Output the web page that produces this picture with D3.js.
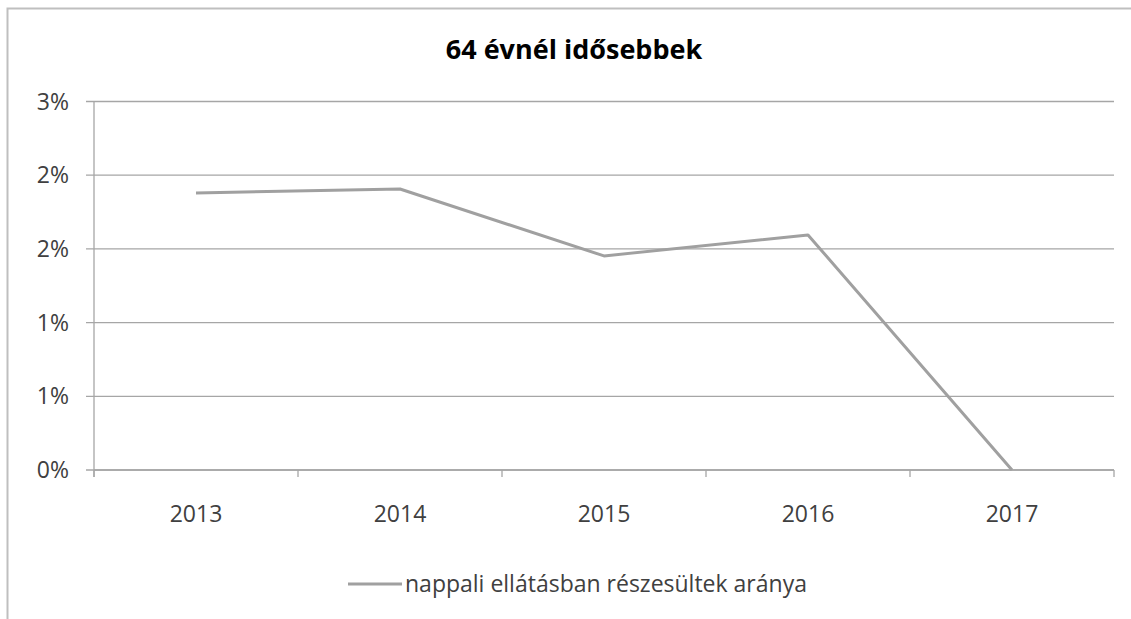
<!DOCTYPE html>
<html>
<head>
<meta charset="utf-8">
<script src="https://cdn.jsdelivr.net/npm/d3@7"></script>
<style>
  body { margin: 0; background: #fff; }
  text { font-family: "Open Sans", sans-serif; fill: #404040; }
  .grid line { stroke: #a6a6a6; stroke-width: 1.3; }
  .axis path, .axis line { stroke: #a6a6a6; stroke-width: 1.3; }
</style>
</head>
<body>
<div id="chart"></div>
<script>
// chart data
var years = ["2013", "2014", "2015", "2016", "2017"];
var shares = [0.02255, 0.02288, 0.01743, 0.01914, 0.0];
var yTicks = [0, 0.006, 0.012, 0.018, 0.024, 0.03];
var seriesName = "nappali ellátásban részesültek aránya";
var title = "64 évnél idősebbek";

var W = 1131, H = 619;
var margin = {top: 101.5, right: 17, bottom: 149, left: 94},
    width = W - margin.left - margin.right,
    height = H - margin.top - margin.bottom;

var svg = d3.select("#chart")
  .append("svg")
    .attr("width", W)
    .attr("height", H);

// outer chart frame
svg.append("path")
    .attr("d", "M7.5,619 L7.5,8.5 L1131,8.5")
    .attr("fill", "none")
    .attr("stroke", "#bfbfbf")
    .attr("stroke-width", 2);

svg.append("text")
    .attr("x", 574)
    .attr("y", 59)
    .attr("text-anchor", "middle")
    .style("font-size", "27px")
    .style("font-weight", "bold")
    .style("fill", "#000")
    .text(title);

var g = svg.append("g")
    .attr("transform", "translate(" + margin.left + "," + margin.top + ")");

var x = d3.scaleBand().domain(years).range([0, width]);
var y = d3.scaleLinear().domain([0, 0.03]).range([height, 0]);

// horizontal gridlines
g.append("g")
    .attr("class", "grid")
  .selectAll("line")
  .data(yTicks)
  .enter().append("line")
    .attr("x1", -8)
    .attr("x2", width)
    .attr("y1", function(d) { return y(d); })
    .attr("y2", function(d) { return y(d); });

// y axis labels
g.append("g")
  .selectAll("text")
  .data(yTicks)
  .enter().append("text")
    .attr("x", -25)
    .attr("y", function(d) { return y(d); })
    .attr("dy", "0.35em")
    .attr("text-anchor", "end")
    .style("font-size", "23px")
    .text(function(d) { return d3.format(".0%")(d); });

// y axis line
g.append("line")
    .attr("x1", 0).attr("x2", 0)
    .attr("y1", 0).attr("y2", height + 7)
    .attr("stroke", "#a6a6a6")
    .attr("stroke-width", 1.3);

// x axis with ticks between categories
var xAxis = g.append("g")
    .attr("class", "axis")
    .attr("transform", "translate(0," + height + ")");

xAxis.append("line")
    .attr("x1", 0).attr("x2", width)
    .attr("y1", 0).attr("y2", 0);

var bounds = years.map(function(d) { return x(d); }).concat([width]);
xAxis.selectAll(".tick")
  .data(bounds)
  .enter().append("line")
    .attr("x1", function(d) { return d; })
    .attr("x2", function(d) { return d; })
    .attr("y1", 0)
    .attr("y2", 7);

xAxis.selectAll(".lbl")
  .data(years)
  .enter().append("text")
    .attr("x", function(d) { return x(d) + x.bandwidth() / 2; })
    .attr("y", 52)
    .attr("text-anchor", "middle")
    .style("font-size", "23px")
    .text(function(d) { return d; });

// series line
var line = d3.line()
    .x(function(d, i) { return x(years[i]) + x.bandwidth() / 2; })
    .y(function(d) { return y(d); });

g.append("path")
    .datum(shares)
    .attr("fill", "none")
    .attr("stroke", "#a0a0a0")
    .attr("stroke-width", 3)
    .attr("stroke-linejoin", "round")
    .attr("d", line);

// legend
var legend = svg.append("g")
    .attr("transform", "translate(348,584)");

legend.append("line")
    .attr("x1", 0).attr("x2", 54)
    .attr("y1", 0).attr("y2", 0)
    .attr("stroke", "#a0a0a0")
    .attr("stroke-width", 3);

legend.append("text")
    .attr("x", 57)
    .attr("y", 0)
    .attr("dy", "0.35em")
    .style("font-size", "23px")
    .text(seriesName);
</script>
</body>
</html>
